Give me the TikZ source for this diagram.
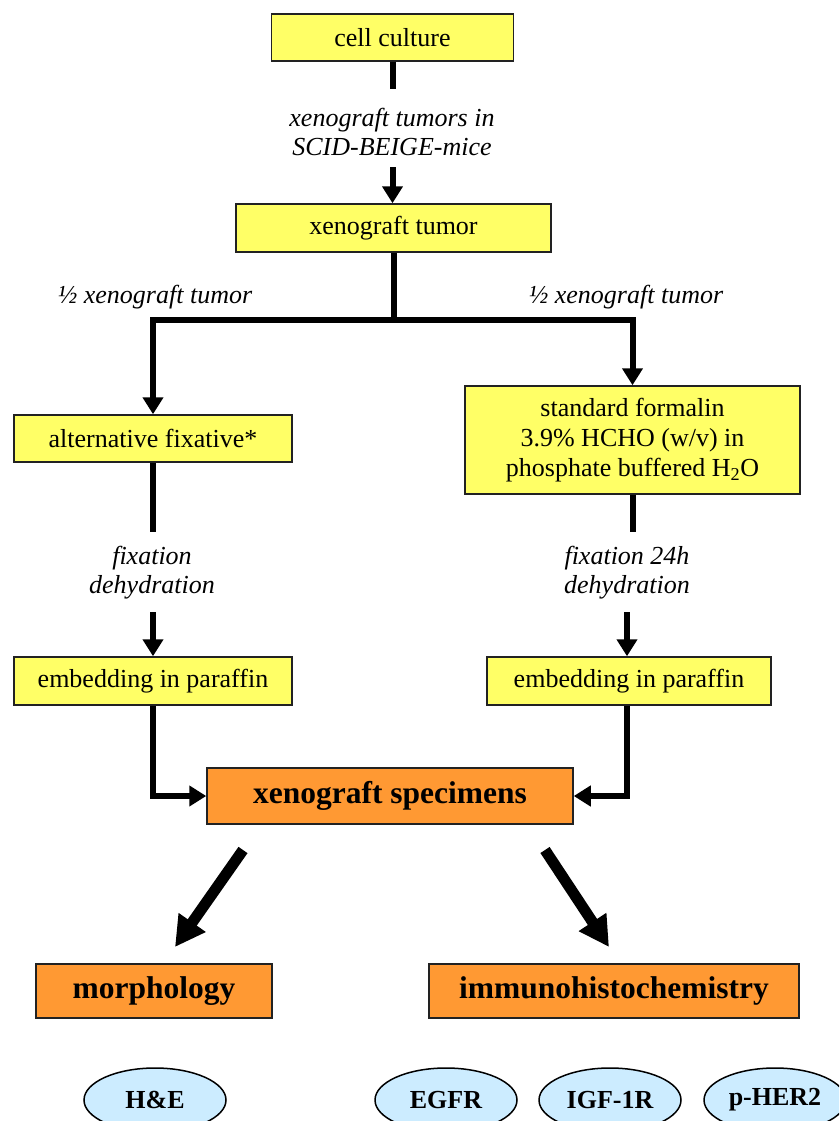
\documentclass[tikz,border=0pt]{standalone}
\usepackage{fontspec}
\setmainfont{Liberation Serif}
\usetikzlibrary{arrows.meta,shapes.geometric}
\definecolor{boxyellow}{HTML}{FFFF66}
\definecolor{boxorange}{HTML}{FF9933}
\definecolor{ellblue}{HTML}{CCECFF}
\definecolor{edge}{HTML}{222222}
\begin{document}
\begin{tikzpicture}[x=1pt,y=-1pt,
  ybox/.style={draw=edge, line width=1.5pt, fill=boxyellow, inner sep=0pt, align=center,
    font=\fontsize{26}{30}\selectfont},
  obox/.style={draw=edge, line width=1.5pt, fill=boxorange, inner sep=0pt, align=center,
    font=\fontsize{31.5}{34}\selectfont\bfseries},
  oval/.style={ellipse, draw=black, line width=1.5pt, fill=ellblue, inner sep=0pt,
    minimum width=142pt, minimum height=64pt, font=\fontsize{26}{30}\selectfont\bfseries},
  lab/.style={align=center, inner sep=0pt, font=\fontsize{26}{29}\selectfont\itshape},
  conn/.style={line width=6pt, draw=black},
  arr/.style={-{Triangle[width=20pt,length=17pt]}},
  big/.style={line width=11pt, draw=black, -{Triangle[width=31pt,length=30pt]}}
]
\useasboundingbox (0,0) rectangle (839,1121);
\clip (0,0) rectangle (839,1121);

% boxes
\node[ybox, minimum width=242pt, minimum height=47pt] (cc) at (392.5,37.5) {cell culture};
\node[ybox, minimum width=315pt, minimum height=48pt] (xt) at (393.5,228) {xenograft tumor};
\node[ybox, minimum width=278pt, minimum height=47pt] (af) at (153,438.5) {alternative fixative*};
\node[ybox, minimum width=335pt, minimum height=108pt] (sf) at (632.5,440)
  {standard formalin\\3.9\% HCHO (w/v) in\\phosphate buffered H\textsubscript{2}O};
\node[ybox, minimum width=278pt, minimum height=48pt] (el) at (153,681) {embedding in paraffin};
\node[ybox, minimum width=284pt, minimum height=48pt] (er) at (629,681) {embedding in paraffin};
\node[obox, minimum width=366pt, minimum height=56pt] (xs) at (390,796) {xenograft specimens};
\node[obox, minimum width=236pt, minimum height=54pt] (mo) at (154,991) {morphology};
\node[obox, minimum width=370pt, minimum height=54pt] (ih) at (614,991) {immunohistochemistry};

% ellipses
\node[oval] (he) at (155,1100) {H\&E};
\node[oval] (eg) at (446,1100) {EGFR};
\node[oval] (ig) at (610,1100) {IGF-1R};
\node[oval] (ph) at (775,1100) {p-HER2};

% labels
\node[lab] (l1) at (392,132) {xenograft tumors in\\SCID-BEIGE-mice};
\node[lab] (l2) at (155,297) {½ xenograft tumor};
\node[lab] (l3) at (626,297) {½ xenograft tumor};
\node[lab] (l4) at (152,573) {fixation\\dehydration};
\node[lab] (l5) at (627,573) {fixation 24h\\dehydration};

% connector coordinates
\coordinate (c1) at (392.5,89);
\coordinate (c2) at (392.5,167);
\coordinate (sp) at (393.5,320);
\coordinate (f1) at (153,532);
\coordinate (f2) at (153,612);
\coordinate (f3) at (632.5,532);
\coordinate (f4) at (627,612);
\coordinate (b1) at (243,850);
\coordinate (b2) at (175,947);
\coordinate (b3) at (545,850);
\coordinate (b4) at (609,947);

% connectors
\draw[conn] (cc.south) -- (c1);
\draw[conn,arr] (c2) -- (c2 |- xt.north);
\draw[conn] (xt.south) -- (sp);
\draw[conn,arr] (sp) -| (af.north);
\draw[conn,arr] (sp) -| (sf.north);
\draw[conn] (af.south) -- (f1);
\draw[conn,arr] (f2) -- (el.north);
\draw[conn] (sf.south) -- (f3);
\draw[conn,arr] (f4) -- (f4 |- er.north);
\draw[conn,arr] (el.south) |- (xs.west);
\draw[conn,arr] (f4 |- er.south) |- (xs.east);
\draw[big] (b1) -- (b2);
\draw[big] (b3) -- (b4);
\end{tikzpicture}
\end{document}
